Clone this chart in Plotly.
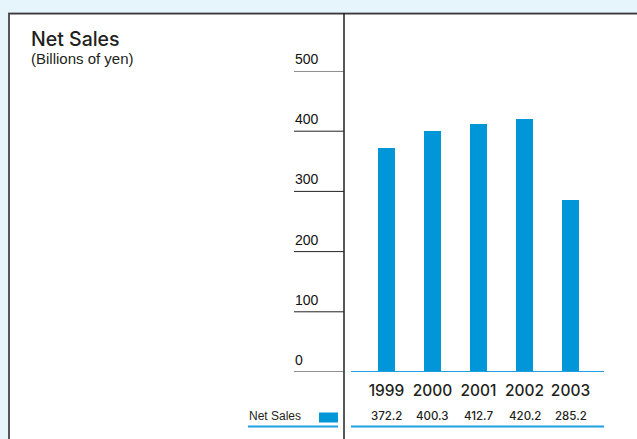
import plotly.graph_objects as go

W, H = 637, 439

years = ["1999", "2000", "2001", "2002", "2003"]
net_sales = [372.2, 400.3, 412.7, 420.2, 285.2]
y_ticks = [0, 100, 200, 300, 400, 500]

title_text = "Net Sales"
subtitle_text = "(Billions of yen)"
legend_text = "Net Sales"

BLUE = "#0096d8"
LINE_BLUE = "#1e9fe0"
BG = "#e6f4fc"
DARK = "#231f20"
FONT = "Liberation Sans, Arial, Helvetica, sans-serif"
MED = "Inter, Liberation Sans, Arial, sans-serif"


def px(x):
    return x / W


def py(y):
    return 1 - y / H


fig = go.Figure()
fig.add_trace(go.Bar(
    x=list(range(len(years))), y=net_sales,
    marker=dict(color=BLUE, line=dict(width=0)),
    width=0.37, hoverinfo="skip", showlegend=False,
))

# pixel geometry of the plot area
x0, x1 = 351, 604
y_zero, y_top = 372, 71
unit = 46.0
first_center = 386.5
xr = [-(first_center - x0) / unit, (x1 - first_center) / unit]

fig.update_layout(
    width=W, height=H,
    margin=dict(l=0, r=0, t=0, b=0),
    paper_bgcolor="white", plot_bgcolor="rgba(0,0,0,0)",
    showlegend=False,
    bargap=0,
    xaxis=dict(
        domain=[px(x0), px(x1)], range=xr,
        tickmode="array", tickvals=list(range(len(years))), ticktext=years,
        tickfont=dict(family=MED, size=15.5, color=DARK, weight=500),
        showgrid=False, zeroline=False, showline=False, ticks="",
        ticklabelstandoff=7,
    ),
    yaxis=dict(
        domain=[py(y_zero), py(y_top)], range=[0, 500],
        showticklabels=False, showgrid=False, zeroline=False, showline=False, ticks="",
    ),
)

shapes = []
# light blue backdrop around panel
shapes.append(dict(type="rect", xref="paper", yref="paper", x0=0, x1=1, y0=py(13), y1=1,
                   fillcolor=BG, line=dict(width=0), layer="below"))
shapes.append(dict(type="rect", xref="paper", yref="paper", x0=0, x1=px(8), y0=0, y1=1,
                   fillcolor=BG, line=dict(width=0), layer="below"))
# panel borders (with soft shadow)
shapes.append(dict(type="line", xref="paper", yref="paper", x0=px(8), x1=1, y0=py(12.5), y1=py(12.5),
                   line=dict(color="#a9b0b5", width=1)))
shapes.append(dict(type="line", xref="paper", yref="paper", x0=px(8.5), x1=1, y0=py(13.8), y1=py(13.8),
                   line=dict(color="#3a3a3a", width=1.5)))
shapes.append(dict(type="line", xref="paper", yref="paper", x0=px(9), x1=px(9), y0=0, y1=py(13),
                   line=dict(color="#444444", width=1.8)))
# vertical divider
shapes.append(dict(type="line", xref="paper", yref="paper", x0=px(344), x1=px(344), y0=0, y1=py(13),
                   line=dict(color="#222222", width=1.5)))
# tick lines on y scale
for t in y_ticks:
    shapes.append(dict(type="line", xref="paper", yref="y", x0=px(294), x1=px(344), y0=t, y1=t,
                       line=dict(color="#222222", width=1)))
# baseline
shapes.append(dict(type="line", xref="paper", yref="y", x0=px(x0), x1=px(x1), y0=0, y1=0,
                   line=dict(color=LINE_BLUE, width=2)))
# bottom table line
shapes.append(dict(type="line", xref="paper", yref="paper", x0=px(x0), x1=px(x1), y0=py(426.5), y1=py(426.5),
                   line=dict(color=LINE_BLUE, width=1.8)))
shapes.append(dict(type="line", xref="paper", yref="paper", x0=px(248), x1=px(338), y0=py(426.5), y1=py(426.5),
                   line=dict(color=LINE_BLUE, width=1.8)))
# legend swatch
shapes.append(dict(type="rect", xref="paper", yref="paper", x0=px(319), x1=px(338), y0=py(422.5), y1=py(412.5),
                   fillcolor=BLUE, line=dict(width=0)))
fig.update_layout(shapes=shapes)

ann = []
ann.append(dict(text=title_text, xref="paper", yref="paper", x=px(29), y=py(25), xanchor="left", yanchor="top",
                showarrow=False, font=dict(family=MED, size=19.5, color=DARK, weight=500)))
ann.append(dict(text=subtitle_text, xref="paper", yref="paper", x=px(29), y=py(48), xanchor="left", yanchor="top",
                showarrow=False, font=dict(family=FONT, size=15, color=DARK)))
for t in y_ticks:
    ann.append(dict(text=str(t), xref="paper", yref="y", x=px(293), y=t, xanchor="left", yanchor="bottom",
                    yshift=2, showarrow=False, font=dict(family=FONT, size=14, color="#111111")))
for i, v in enumerate(net_sales):
    ann.append(dict(text=f"{v:.1f}", xref="x", yref="paper", x=i, y=py(416), xanchor="center", yanchor="middle",
                    showarrow=False, font=dict(family=MED, size=11.5, color=DARK, weight=500)))
ann.append(dict(text=legend_text, xref="paper", yref="paper", x=px(247), y=py(416), xanchor="left", yanchor="middle",
                showarrow=False, font=dict(family=FONT, size=12, color=DARK)))
fig.update_layout(annotations=ann)

fig.write_html("out.html", config={"displayModeBar": False},
               post_script="document.body.style.margin='0';document.body.style.overflow='hidden';")
